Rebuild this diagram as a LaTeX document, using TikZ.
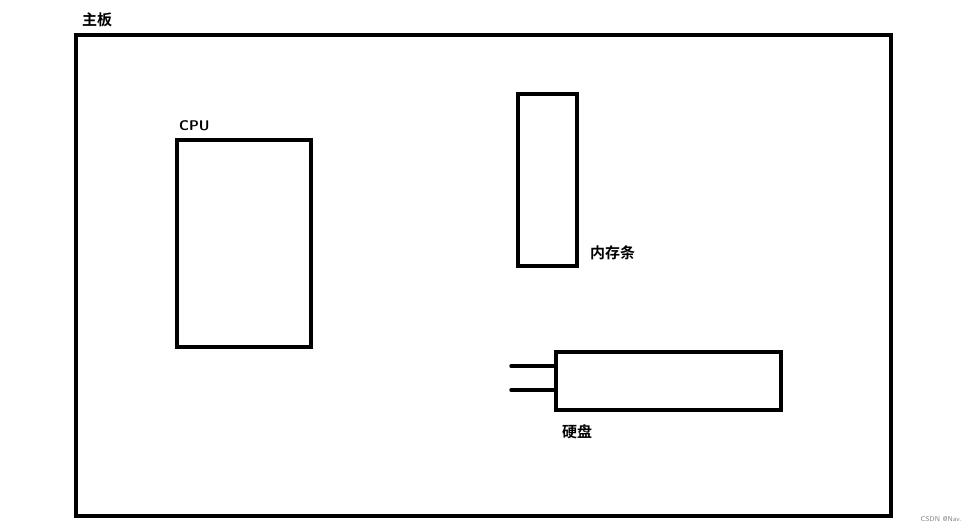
\documentclass[tikz,border=0pt]{standalone}
\usepackage{fontspec}
\newfontfamily\cjk{Noto Sans CJK SC}[BoldFont={* Bold}]
\begin{document}
\begin{tikzpicture}[x=1pt,y=-1pt,
  box/.style={draw,line width=3.5pt},
  lbl/.style={font=\cjk\bfseries\fontsize{15}{15}\selectfont,anchor=west,inner sep=0}]
\useasboundingbox (0,0) rectangle (976,532);
\draw[box] (76,35) rectangle (891,516);
\node[lbl] (mb) at (82,20) {主板};
\draw[box] (177,140) rectangle (311,347);
\node[lbl,font=\sffamily\bfseries\fontsize{14}{14}\selectfont] (cpu) at (179,126) {CPU};
\draw[box] (518,94) rectangle (577,266);
\node[lbl] (mem) at (590,253) {内存条};
\draw[box] (556,352) coordinate (d1) rectangle (781,410);
\coordinate (a) at (556,366); \coordinate (b) at (556,390);
\coordinate (a0) at (511,366); \coordinate (b0) at (511,390);
\draw[line width=3.5pt,line cap=round] (a0) -- (a) (b0) -- (b);
\node[lbl] (hd) at (562,432) {硬盘};
\node[anchor=east,inner sep=0,text=gray,font=\sffamily\fontsize{7}{7}\selectfont] (wm) at (962,519) {CSDN @Nav.};
\end{tikzpicture}
\end{document}
